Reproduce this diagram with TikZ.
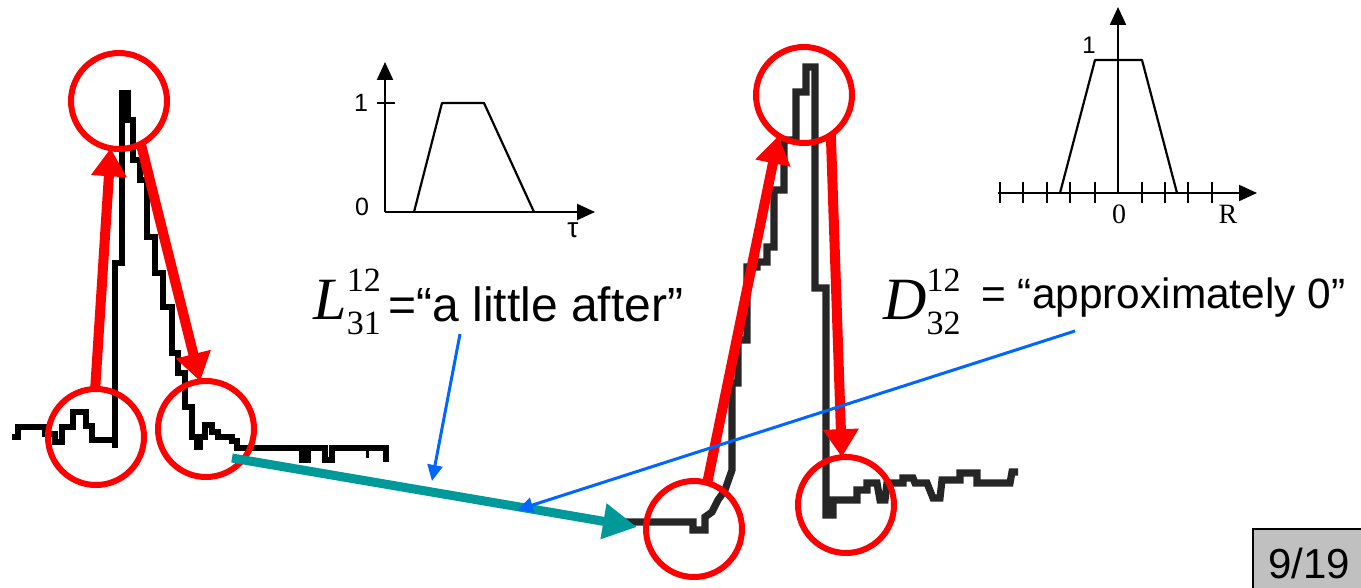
\documentclass[tikz,border=0pt]{standalone}
\usepackage{fontspec}
\setmainfont{Liberation Sans}
\newfontfamily\tms{Liberation Serif}
\usetikzlibrary{arrows.meta}
\definecolor{redc}{RGB}{255,0,0}
\definecolor{tealc}{RGB}{0,153,153}
\definecolor{bluec}{RGB}{0,102,255}
\definecolor{pgray}{RGB}{192,192,192}
\begin{document}
\begin{tikzpicture}[x=0.5pt,y=-0.5pt,
  ring/.style={draw=redc, line width=3pt, circle, minimum size=48pt, inner sep=0pt, outer sep=0pt},
  redarrow/.style={draw=redc, line width=5pt, -{Triangle[length=14pt,width=17pt]}},
  tealarrow/.style={draw=tealc, line width=4.5pt, -{Triangle[length=17pt,width=17pt]}},
  bluearrow/.style={draw=bluec, line width=1.5pt, -{Triangle[length=8pt,width=7.5pt]}},
  wave/.style={line width=2.6pt, line join=miter, black},
  waveb/.style={line width=3.6pt, line join=miter, black!85},
  axis/.style={line width=1.1pt, -{Triangle[length=9pt,width=8pt]}},
  thin/.style={line width=1.1pt},
  lbl/.style={inner sep=0pt, font=\fontsize{12.5}{14}\selectfont},
  mtxt/.style={inner sep=0pt, anchor=base west},
]
\clip (0,0) rectangle (1361,588);
\fill[white] (0,0) rectangle (1361,588);

% ---- left waveform
\draw[wave] (12,437)--(18,437)--(18,427)--(45,427)--(45,434)--(55,434)--(55,442)--(62,442)--(62,427)--(73,427)--(73,412)--(86,412)--(86,426)--(92,426)--(92,440)--(115,440)--(115,263)--(122,263)--(122,93)--(128,93)--(128,120)--(133,120)--(133,160)--(140,160)--(140,180)--(147,180)--(147,237)--(155,237)--(155,273)--(163,273)--(163,307)--(172,307)--(172,353)--(178,353)--(178,373)--(185,373)--(185,407)--(192,407)--(192,437)--(197,437)--(197,447)--(200,447)--(200,437)--(205,437)--(205,425)--(212,425)--(212,432)--(218,432)--(218,437)--(232,437)--(232,441)--(237,441)--(237,448)--(302,448)--(302,460)--(308,460)--(308,448)--(325,448)--(325,460)--(332,460)--(332,448)--(386,448)--(386,462);
\draw[wave] (115,440)--(115,448);
\draw[line width=1.5pt] (367,448)--(367,458);

% ---- right waveform
\draw[waveb] (620,522)--(693,522)--(693,530)--(705,530)--(705,517)--(712,512)--(718,500)--(725,490)--(732,470)--(732,383)--(738,383)--(738,340)--(747,340)--(747,267)--(757,267)--(757,262)--(767,262)--(767,247)--(774,247)--(774,190)--(784,190)--(784,140)--(796,140)--(796,92)--(806,92)--(806,67)--(815,67)--(815,288)--(826,288)--(826,515)--(833,515)--(833,500)--(857,500)--(857,490)--(867,490)--(867,483)--(877,483)--(880,500)--(885,500)--(887,483)--(903,483)--(903,478)--(913,478)--(915,483)--(927,483)--(933,498)--(940,498)--(942,480)--(960,480)--(960,473)--(977,473)--(977,483)--(1010,483)--(1012,472)--(1018,472);

% ---- small graph 1
\draw[axis] (385,212) -- (385,62);
\draw[axis] (385,212) -- (595,212);
\draw[thin] (377,103) -- (395,103);
\draw[thin, line join=round] (414,212)--(442,103)--(484,103)--(534,212);
\node[lbl] (g1one) at (361,103) {1};
\node[lbl] (g1zero) at (362,207) {0};
\node[lbl, font=\fontsize{14}{16}\selectfont] (g1tau) at (573,230) {τ};

% ---- small graph 2
\draw[axis] (1118,193) -- (1118,7);
\draw[axis] (998,193) -- (1257,193);
\foreach \tx in {1000,1023,1047,1070,1095,1142,1165,1188,1212}
  \draw[thin] (\tx,182) -- (\tx,203);
\draw[thin, line join=round] (1060,193)--(1095,60)--(1142,60)--(1177,193);
\node[lbl, font=\fontsize{12}{14}\selectfont] (g2one) at (1089,45) {1};
\node[lbl, font=\tms\fontsize{14}{16}\selectfont] (g2zero) at (1119,214) {0};
\node[lbl, font=\tms\fontsize{14}{16}\selectfont] (g2R) at (1228,214) {R};

% ---- red rings
\node[ring] (tl) at (119,101) {};
\node[ring] (bl1) at (96,437) {};
\node[ring] (br1) at (206,429) {};
\node[ring] (tr) at (804,95) {};
\node[ring] (bl2) at (694,529) {};
\node[ring] (br2) at (846,505) {};

% ---- red arrows
\draw[redarrow] (bl1.91) -- (tl.260);
\draw[redarrow] (tl.-63) -- (br1.97);
\draw[redarrow] (bl2.74) -- (tr.238);
\draw[redarrow] (tr.-56) -- (br2.95);

% ---- teal arrow
\coordinate (tealS) at (232,458);
\coordinate (tealE) at (637,527);
\draw[tealarrow] (tealS) -- (tealE);

% ---- labels
\node[mtxt] (Llab) at (313,320) {\tms\fontsize{30}{30}\selectfont\textit{L}\rlap{\raisebox{14pt}{\fontsize{17}{17}\selectfont 12}}\raisebox{-7.5pt}{\fontsize{17}{17}\selectfont 31}};
\node[mtxt, font=\fontsize{24}{26}\selectfont] (Ltxt) at (388,322) {=“a little after”};
\node[mtxt] (Dlab) at (883,320) {\tms\fontsize{30}{30}\selectfont\textit{D}\rlap{\raisebox{14pt}{\fontsize{17}{17}\selectfont 12}}\raisebox{-7.5pt}{\fontsize{17}{17}\selectfont 32}};
\node[mtxt, font=\fontsize{21.2}{24}\selectfont] (Dtxt) at (981,309) {= “approximately 0”};

% ---- blue pointers
\coordinate (b1S) at (460,334);
\coordinate (b1E) at (432,481);
\coordinate (b2S) at (1075,331);
\coordinate (b2E) at (517,510);
\draw[bluearrow] (b1S) -- (b1E);
\draw[bluearrow] (b2S) -- (b2E);

% ---- page number
\node[draw=black, line width=1pt, fill=pgray, minimum width=56pt, minimum height=31.5pt, inner sep=0pt, font=\fontsize{21}{23}\selectfont, text depth=0pt] (pg) at (1309,560) {\raisebox{-3pt}{9/19}};
\end{tikzpicture}
\end{document}
